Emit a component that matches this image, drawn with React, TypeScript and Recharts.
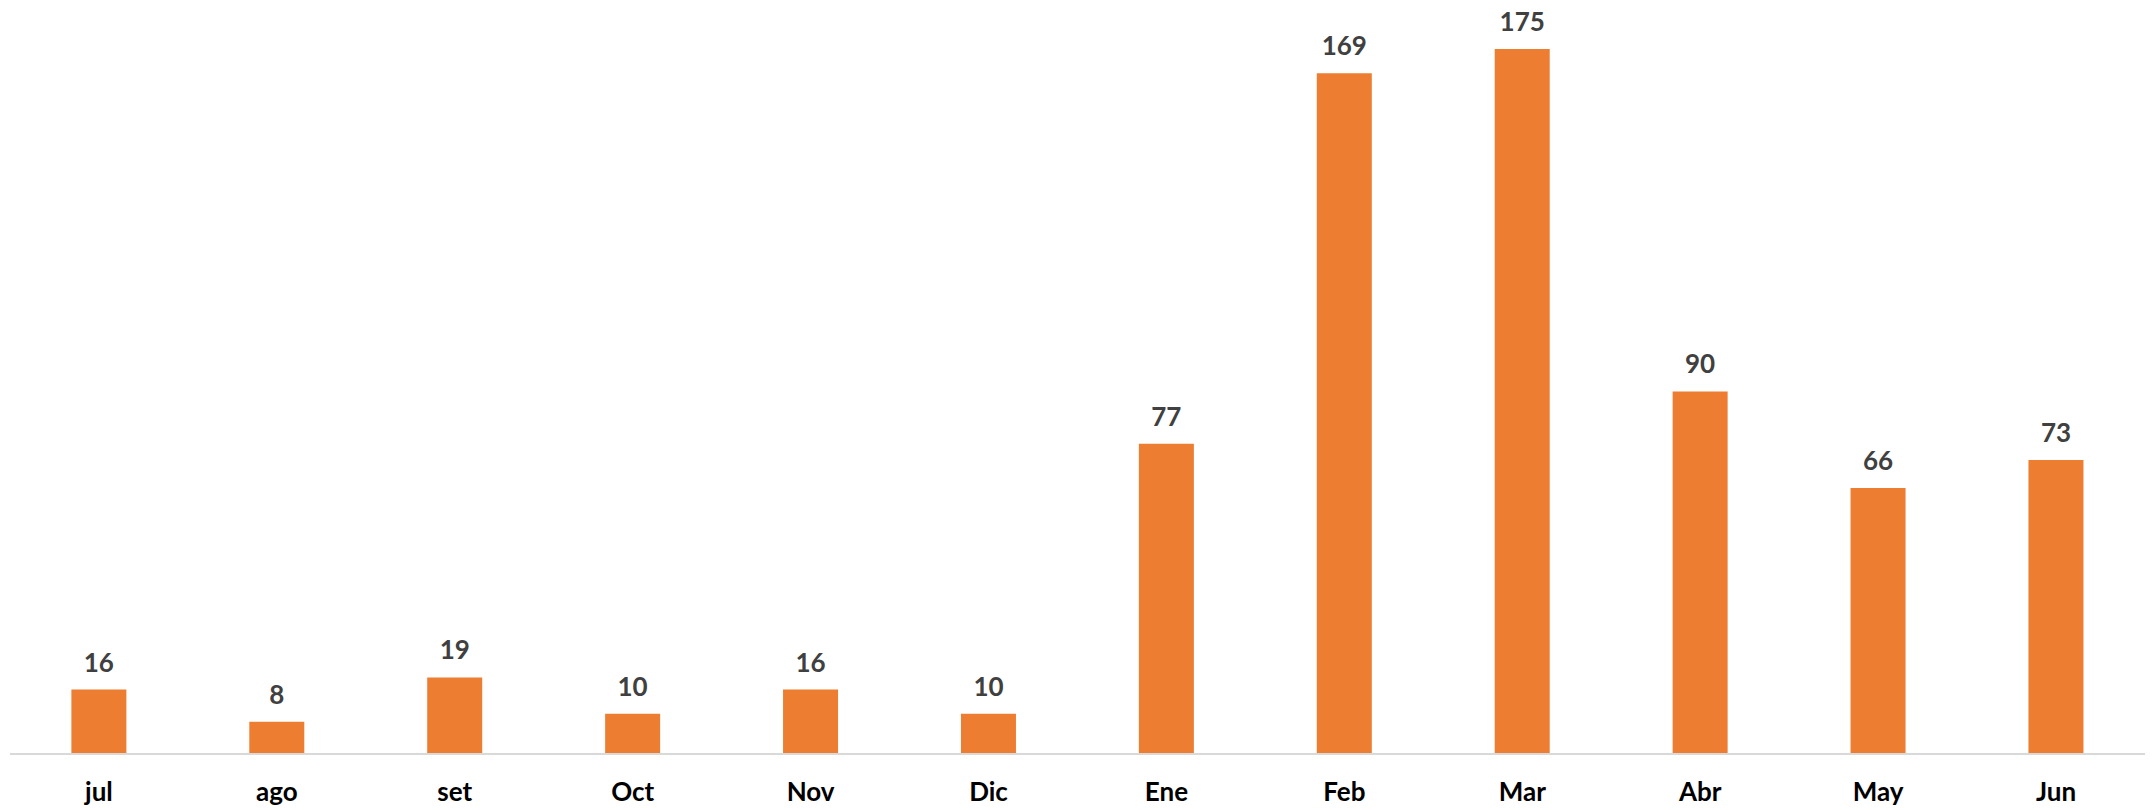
import React from "react";
import { BarChart, Bar, XAxis, YAxis, LabelList } from "recharts";

const months = ["jul", "ago", "set", "Oct", "Nov", "Dic", "Ene", "Feb", "Mar", "Abr", "May", "Jun"];
const values = [16, 8, 19, 10, 16, 10, 77, 169, 175, 90, 66, 73];

const data = months.map((m, i) => ({ month: m, value: values[i] }));

export default function App() {
  return (
    <div style={{ position: "absolute", left: 0, top: 0, width: 2156, height: 810, background: "#fff" }}>
      <BarChart
        width={2156}
        height={810}
        data={data}
        margin={{ top: 49, right: 11, left: 10, bottom: 16 }}
        barCategoryGap="34.5%"
      >
        <XAxis
          dataKey="month"
          axisLine={{ stroke: "#d9d9d9", strokeWidth: 2 }}
          tickLine={false}
          tickSize={0}
          tickMargin={29}
          height={40}
          interval={0}
          tick={{ fill: "#000", fontSize: 26, fontWeight: 700, fontFamily: "Lato, sans-serif" }}
        />
        <YAxis hide domain={[0, 175]} />
        <Bar dataKey="value" fill="#ED7D31" isAnimationActive={false}>
          <LabelList
            dataKey="value"
            position="top"
            offset={18}
            fill="#404040"
            fontSize={26}
            fontWeight={700}
            fontFamily="Lato, sans-serif"
          />
        </Bar>
      </BarChart>
    </div>
  );
}
